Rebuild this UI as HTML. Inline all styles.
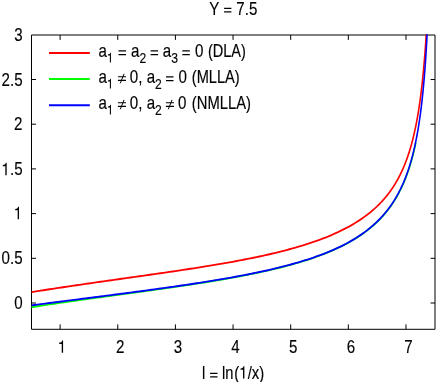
<!DOCTYPE html>
<html><head><meta charset="utf-8"><title>Y = 7.5</title>
<style>
html,body{margin:0;padding:0;background:#fff;}
body{width:436px;height:382px;overflow:hidden;font-family:"Liberation Sans",sans-serif;}
svg{display:block;}
text{font-family:"Liberation Sans",sans-serif;fill:#000;}
</style></head>
<body>
<svg width="436" height="382" viewBox="0 0 436 382">
<rect x="0" y="0" width="436" height="382" fill="#ffffff"/>
<path d="M31.5,303.00h4.5 M435.0,303.00h-4.4 M31.5,258.30h4.5 M435.0,258.30h-4.4 M31.5,213.60h4.5 M435.0,213.60h-4.4 M31.5,168.90h4.5 M435.0,168.90h-4.4 M31.5,124.20h4.5 M435.0,124.20h-4.4 M31.5,79.50h4.5 M435.0,79.50h-4.4 M60.12,329.3v-4.9 M60.12,35.0v4.9 M117.76,329.3v-4.9 M117.76,35.0v4.9 M175.41,329.3v-4.9 M175.41,35.0v4.9 M233.05,329.3v-4.9 M233.05,35.0v4.9 M290.69,329.3v-4.9 M290.69,35.0v4.9 M348.34,329.3v-4.9 M348.34,35.0v4.9 M405.98,329.3v-4.9 M405.98,35.0v4.9" stroke="#000" stroke-width="1" fill="none"/>
<path d="M31.5,35.0H435.0V329.3H31.5Z" stroke="#000" stroke-width="1" fill="none"/>
<g fill="none" stroke-width="1.85" stroke-linejoin="round" transform="scale(0.86,1)">
<path d="M36.63,292.10 L40.12,291.63 L43.60,291.16 L47.09,290.69 L50.58,290.22 L54.07,289.75 L57.56,289.29 L61.05,288.83 L64.53,288.38 L68.02,287.92 L71.51,287.47 L75.00,287.02 L78.49,286.57 L81.98,286.13 L85.47,285.69 L88.95,285.25 L92.44,284.81 L95.93,284.37 L99.42,283.93 L102.91,283.50 L106.40,283.07 L109.88,282.63 L113.37,282.20 L116.86,281.78 L120.35,281.35 L123.84,280.92 L127.33,280.49 L130.81,280.07 L134.30,279.64 L137.79,279.22 L141.28,278.79 L144.77,278.37 L148.26,277.95 L151.74,277.52 L155.23,277.10 L158.72,276.67 L162.21,276.25 L165.70,275.82 L169.19,275.40 L172.67,274.97 L176.16,274.54 L179.65,274.11 L183.14,273.68 L186.63,273.24 L190.12,272.81 L193.60,272.37 L197.09,271.93 L200.58,271.49 L204.07,271.05 L207.56,270.60 L211.05,270.15 L214.53,269.70 L218.02,269.24 L221.51,268.78 L225.00,268.31 L228.49,267.85 L231.98,267.37 L235.47,266.89 L238.95,266.41 L242.44,265.92 L245.93,265.43 L249.42,264.93 L252.91,264.42 L256.40,263.91 L259.88,263.39 L263.37,262.86 L266.86,262.33 L270.35,261.79 L273.84,261.24 L277.33,260.68 L280.81,260.11 L284.30,259.53 L287.79,258.94 L291.28,258.34 L294.77,257.73 L298.26,257.10 L301.74,256.47 L305.23,255.82 L308.72,255.15 L312.21,254.47 L315.70,253.78 L319.19,253.07 L322.67,252.35 L326.16,251.60 L329.65,250.84 L333.14,250.06 L336.63,249.25 L340.12,248.43 L343.60,247.58 L347.09,246.71 L350.58,245.81 L354.07,244.89 L357.56,243.94 L361.05,242.95 L364.53,241.94 L368.02,240.89 L371.51,239.80 L375.00,238.68 L378.49,237.51 L381.98,236.30 L385.47,235.04 L388.95,233.73 L392.44,232.37 L395.93,230.95 L399.42,229.47 L402.91,227.92 L406.40,226.29 L409.88,224.59 L413.37,222.79 L416.86,220.90 L420.35,218.91 L423.84,216.80 L427.33,214.55 L430.81,212.17 L434.30,209.62 L437.79,206.89 L441.28,203.95 L441.86,203.44 L442.15,203.18 L442.44,202.92 L442.73,202.66 L443.02,202.40 L443.31,202.13 L443.60,201.87 L443.90,201.60 L444.19,201.33 L444.48,201.05 L444.77,200.78 L445.06,200.50 L445.35,200.23 L445.64,199.95 L445.93,199.66 L446.22,199.38 L446.51,199.09 L446.80,198.81 L447.09,198.52 L447.38,198.22 L447.67,197.93 L447.97,197.63 L448.26,197.34 L448.55,197.03 L448.84,196.73 L449.13,196.43 L449.42,196.12 L449.71,195.81 L450.00,195.50 L450.29,195.18 L450.58,194.87 L450.87,194.55 L451.16,194.23 L451.45,193.90 L451.74,193.57 L452.03,193.24 L452.33,192.91 L452.62,192.58 L452.91,192.24 L453.20,191.90 L453.49,191.56 L453.78,191.21 L454.07,190.86 L454.36,190.51 L454.65,190.16 L454.94,189.80 L455.23,189.44 L455.52,189.08 L455.81,188.71 L456.10,188.34 L456.40,187.97 L456.69,187.60 L456.98,187.22 L457.27,186.83 L457.56,186.45 L457.85,186.06 L458.14,185.67 L458.43,185.27 L458.72,184.87 L459.01,184.47 L459.30,184.06 L459.59,183.65 L459.88,183.23 L460.17,182.82 L460.47,182.39 L460.76,181.97 L461.05,181.54 L461.34,181.10 L461.63,180.66 L461.92,180.22 L462.21,179.77 L462.50,179.32 L462.79,178.86 L463.08,178.40 L463.37,177.93 L463.66,177.46 L463.95,176.99 L464.24,176.51 L464.53,176.02 L464.83,175.53 L465.12,175.03 L465.41,174.53 L465.70,174.02 L465.99,173.51 L466.28,172.99 L466.57,172.47 L466.86,171.94 L467.15,171.40 L467.44,170.86 L467.73,170.32 L468.02,169.76 L468.31,169.20 L468.60,168.63 L468.90,168.06 L469.19,167.48 L469.48,166.89 L469.77,166.30 L470.06,165.69 L470.35,165.09 L470.64,164.47 L470.93,163.84 L471.22,163.21 L471.51,162.57 L471.80,161.92 L472.09,161.26 L472.38,160.60 L472.67,159.92 L472.97,159.24 L473.26,158.55 L473.55,157.84 L473.84,157.13 L474.13,156.41 L474.42,155.68 L474.71,154.93 L475.00,154.18 L475.29,153.42 L475.58,152.64 L475.87,151.86 L476.16,151.06 L476.45,150.25 L476.74,149.43 L477.03,148.59 L477.33,147.74 L477.62,146.88 L477.91,146.01 L478.20,145.12 L478.49,144.22 L478.78,143.30 L479.07,142.36 L479.36,141.42 L479.65,140.45 L479.94,139.47 L480.23,138.47 L480.52,137.46 L480.81,136.42 L481.10,135.37 L481.40,134.30 L481.69,133.21 L481.98,132.10 L482.27,130.97 L482.56,129.82 L482.85,128.64 L483.14,127.44 L483.43,126.22 L483.72,124.98 L484.01,123.71 L484.30,122.41 L484.59,121.08 L484.88,119.73 L485.17,118.35 L485.47,116.94 L485.76,115.50 L486.05,114.03 L486.34,112.52 L486.63,110.98 L486.92,109.40 L487.21,107.79 L487.50,106.14 L487.79,104.44 L488.08,102.71 L488.37,100.93 L488.66,99.11 L488.95,97.24 L489.24,95.32 L489.53,93.35 L489.83,91.32 L490.12,89.24 L490.41,87.10 L490.70,84.90 L490.99,82.64 L491.28,80.31 L491.57,77.91 L491.86,75.43 L492.15,72.88 L492.44,70.24 L492.73,67.52 L493.02,64.71 L493.31,61.81 L493.60,58.80 L493.90,55.69 L494.19,52.46 L494.48,49.12 L494.77,45.65 L495.06,42.05 L495.35,38.30 L495.64,34.40 L495.65,34.30" stroke="#ff0000"/>
<path d="M36.63,307.23 L40.12,306.75 L43.60,306.28 L47.09,305.82 L50.58,305.36 L54.07,304.90 L57.56,304.45 L61.05,304.00 L64.53,303.56 L68.02,303.12 L71.51,302.68 L75.00,302.25 L78.49,301.82 L81.98,301.39 L85.47,300.96 L88.95,300.54 L92.44,300.12 L95.93,299.70 L99.42,299.28 L102.91,298.87 L106.40,298.45 L109.88,298.04 L113.37,297.63 L116.86,297.22 L120.35,296.81 L123.84,296.40 L127.33,295.99 L130.81,295.58 L134.30,295.18 L137.79,294.77 L141.28,294.36 L144.77,293.95 L148.26,293.54 L151.74,293.13 L155.23,292.72 L158.72,292.31 L162.21,291.90 L165.70,291.49 L169.19,291.08 L172.67,290.66 L176.16,290.24 L179.65,289.82 L183.14,289.40 L186.63,288.98 L190.12,288.56 L193.60,288.13 L197.09,287.70 L200.58,287.26 L204.07,286.83 L207.56,286.39 L211.05,285.94 L214.53,285.50 L218.02,285.05 L221.51,284.59 L225.00,284.13 L228.49,283.67 L231.98,283.20 L235.47,282.73 L238.95,282.25 L242.44,281.76 L245.93,281.27 L249.42,280.78 L252.91,280.28 L256.40,279.77 L259.88,279.25 L263.37,278.72 L266.86,278.19 L270.35,277.65 L273.84,277.10 L277.33,276.54 L280.81,275.98 L284.30,275.40 L287.79,274.81 L291.28,274.21 L294.77,273.60 L298.26,272.98 L301.74,272.35 L305.23,271.70 L308.72,271.04 L312.21,270.36 L315.70,269.67 L319.19,268.96 L322.67,268.23 L326.16,267.49 L329.65,266.73 L333.14,265.95 L336.63,265.14 L340.12,264.32 L343.61,263.47 L347.10,262.59 L350.59,261.69 L354.08,260.76 L357.57,259.80 L361.06,258.81 L364.55,257.78 L368.04,256.72 L371.54,255.62 L375.03,254.48 L378.53,253.29 L382.03,252.06 L385.54,250.78 L389.04,249.45 L392.55,248.06 L396.07,246.62 L399.58,245.11 L403.09,243.54 L406.61,241.89 L410.12,240.16 L413.63,238.35 L417.14,236.43 L420.64,234.41 L424.14,232.27 L427.64,230.00 L431.14,227.59 L434.63,225.01 L438.13,222.24 L441.62,219.27 L442.20,218.75 L442.49,218.49 L442.78,218.23 L443.07,217.96 L443.36,217.70 L443.65,217.43 L443.94,217.16 L444.24,216.89 L444.53,216.61 L444.82,216.34 L445.11,216.06 L445.40,215.78 L445.69,215.50 L445.98,215.22 L446.27,214.93 L446.56,214.64 L446.85,214.35 L447.14,214.06 L447.44,213.77 L447.73,213.47 L448.02,213.18 L448.31,212.88 L448.60,212.58 L448.89,212.27 L449.18,211.97 L449.47,211.66 L449.76,211.35 L450.05,211.03 L450.34,210.72 L450.63,210.40 L450.93,210.08 L451.22,209.76 L451.51,209.43 L451.80,209.11 L452.09,208.78 L452.38,208.44 L452.67,208.11 L452.96,207.77 L453.25,207.43 L453.54,207.09 L453.83,206.74 L454.12,206.39 L454.41,206.04 L454.71,205.69 L455.00,205.33 L455.29,204.97 L455.58,204.61 L455.87,204.24 L456.16,203.87 L456.45,203.50 L456.74,203.12 L457.03,202.74 L457.32,202.36 L457.61,201.98 L457.90,201.59 L458.20,201.20 L458.49,200.80 L458.78,200.40 L459.07,200.00 L459.36,199.59 L459.65,199.18 L459.94,198.77 L460.23,198.35 L460.52,197.93 L460.81,197.51 L461.10,197.08 L461.39,196.64 L461.68,196.21 L461.97,195.76 L462.27,195.32 L462.56,194.87 L462.85,194.41 L463.14,193.96 L463.43,193.49 L463.72,193.02 L464.01,192.55 L464.30,192.07 L464.59,191.59 L464.88,191.10 L465.17,190.61 L465.46,190.11 L465.75,189.61 L466.05,189.10 L466.34,188.59 L466.63,188.07 L466.92,187.55 L467.21,187.02 L467.50,186.48 L467.79,185.94 L468.08,185.39 L468.37,184.84 L468.66,184.28 L468.95,183.71 L469.24,183.14 L469.53,182.56 L469.82,181.97 L470.12,181.37 L470.41,180.77 L470.70,180.16 L470.99,179.55 L471.28,178.93 L471.57,178.29 L471.86,177.66 L472.15,177.01 L472.44,176.35 L472.73,175.69 L473.02,175.02 L473.31,174.34 L473.60,173.65 L473.89,172.95 L474.19,172.24 L474.48,171.52 L474.77,170.79 L475.06,170.06 L475.35,169.31 L475.64,168.55 L475.93,167.78 L476.22,167.00 L476.51,166.21 L476.80,165.40 L477.09,164.59 L477.38,163.76 L477.67,162.92 L477.96,162.06 L478.26,161.20 L478.55,160.32 L478.84,159.42 L479.13,158.51 L479.42,157.59 L479.71,156.65 L480.00,155.70 L480.29,154.72 L480.58,153.74 L480.87,152.73 L481.16,151.71 L481.45,150.67 L481.74,149.61 L482.03,148.54 L482.33,147.44 L482.62,146.32 L482.91,145.18 L483.20,144.02 L483.49,142.84" stroke="#00ff00"/>
<path d="M36.63,305.36 L40.12,304.97 L43.60,304.58 L47.09,304.19 L50.58,303.80 L54.07,303.41 L57.56,303.02 L61.05,302.64 L64.53,302.25 L68.02,301.86 L71.51,301.48 L75.00,301.09 L78.49,300.70 L81.98,300.32 L85.47,299.94 L88.95,299.55 L92.44,299.17 L95.93,298.78 L99.42,298.40 L102.91,298.01 L106.40,297.63 L109.88,297.24 L113.37,296.86 L116.86,296.47 L120.35,296.09 L123.84,295.70 L127.33,295.31 L130.81,294.93 L134.30,294.54 L137.79,294.15 L141.28,293.76 L144.77,293.36 L148.26,292.97 L151.74,292.58 L155.23,292.18 L158.72,291.78 L162.21,291.38 L165.70,290.98 L169.19,290.58 L172.67,290.17 L176.16,289.77 L179.65,289.36 L183.14,288.95 L186.63,288.53 L190.12,288.11 L193.60,287.69 L197.09,287.27 L200.58,286.84 L204.07,286.41 L207.56,285.98 L211.05,285.54 L214.53,285.10 L218.02,284.66 L221.51,284.21 L225.00,283.75 L228.49,283.29 L231.98,282.83 L235.47,282.36 L238.95,281.88 L242.44,281.40 L245.93,280.92 L249.42,280.42 L252.91,279.92 L256.40,279.42 L259.88,278.90 L263.37,278.38 L266.86,277.85 L270.35,277.31 L273.84,276.76 L277.33,276.21 L280.81,275.64 L284.30,275.07 L287.79,274.48 L291.28,273.88 L294.77,273.28 L298.26,272.66 L301.74,272.02 L305.23,271.38 L308.72,270.72 L312.21,270.04 L315.70,269.35 L319.19,268.64 L322.67,267.92 L326.16,267.18 L329.65,266.42 L333.14,265.64 L336.63,264.84 L340.12,264.02 L343.60,263.17 L347.09,262.30 L350.58,261.41 L354.07,260.48 L357.56,259.53 L361.05,258.55 L364.53,257.53 L368.02,256.48 L371.51,255.40 L375.00,254.27 L378.49,253.10 L381.98,251.89 L385.47,250.63 L388.95,249.32 L392.44,247.95 L395.93,246.53 L399.42,245.03 L402.91,243.47 L406.40,241.84 L409.88,240.12 L413.37,238.31 L416.86,236.40 L420.35,234.39 L423.84,232.25 L427.33,229.99 L430.81,227.57 L434.30,225.00 L437.79,222.23 L441.28,219.26 L441.86,218.75 L442.15,218.48 L442.44,218.22 L442.73,217.96 L443.02,217.69 L443.31,217.42 L443.60,217.15 L443.90,216.88 L444.19,216.61 L444.48,216.33 L444.77,216.05 L445.06,215.77 L445.35,215.49 L445.64,215.21 L445.93,214.92 L446.22,214.64 L446.51,214.35 L446.80,214.06 L447.09,213.76 L447.38,213.47 L447.67,213.17 L447.97,212.87 L448.26,212.57 L448.55,212.27 L448.84,211.96 L449.13,211.65 L449.42,211.34 L449.71,211.03 L450.00,210.71 L450.29,210.40 L450.58,210.08 L450.87,209.75 L451.16,209.43 L451.45,209.10 L451.74,208.77 L452.03,208.44 L452.33,208.10 L452.62,207.77 L452.91,207.43 L453.20,207.08 L453.49,206.74 L453.78,206.39 L454.07,206.04 L454.36,205.68 L454.65,205.32 L454.94,204.96 L455.23,204.60 L455.52,204.24 L455.81,203.87 L456.10,203.49 L456.40,203.12 L456.69,202.74 L456.98,202.36 L457.27,201.97 L457.56,201.58 L457.85,201.19 L458.14,200.80 L458.43,200.40 L458.72,200.00 L459.01,199.59 L459.30,199.18 L459.59,198.77 L459.88,198.35 L460.17,197.93 L460.47,197.50 L460.76,197.07 L461.05,196.64 L461.34,196.20 L461.63,195.76 L461.92,195.32 L462.21,194.87 L462.50,194.41 L462.79,193.95 L463.08,193.49 L463.37,193.02 L463.66,192.55 L463.95,192.07 L464.24,191.59 L464.53,191.10 L464.83,190.61 L465.12,190.11 L465.41,189.61 L465.70,189.10 L465.99,188.59 L466.28,188.07 L466.57,187.54 L466.86,187.01 L467.15,186.48 L467.44,185.94 L467.73,185.39 L468.02,184.83 L468.31,184.27 L468.60,183.71 L468.90,183.13 L469.19,182.55 L469.48,181.97 L469.77,181.37 L470.06,180.77 L470.35,180.16 L470.64,179.55 L470.93,178.92 L471.22,178.29 L471.51,177.65 L471.80,177.01 L472.09,176.35 L472.38,175.69 L472.67,175.02 L472.97,174.33 L473.26,173.65 L473.55,172.95 L473.84,172.24 L474.13,171.52 L474.42,170.79 L474.71,170.05 L475.00,169.31 L475.29,168.55 L475.58,167.78 L475.87,167.00 L476.16,166.20 L476.45,165.40 L476.74,164.58 L477.03,163.76 L477.33,162.91 L477.62,162.06 L477.91,161.19 L478.20,160.31 L478.49,159.42 L478.78,158.51 L479.07,157.59 L479.36,156.65 L479.65,155.69 L479.94,154.72 L480.23,153.74 L480.52,152.73 L480.81,151.71 L481.10,150.67 L481.40,149.61 L481.69,148.54 L481.98,147.44 L482.27,146.32 L482.56,145.18 L482.85,144.02 L483.14,142.84 L483.43,141.63 L483.72,140.40 L484.01,139.15 L484.30,137.87 L484.59,136.56 L484.88,135.23 L485.17,133.86 L485.47,132.47 L485.76,131.05 L486.05,129.59 L486.34,128.10 L486.63,126.58 L486.92,125.02 L487.21,123.43 L487.50,121.80 L487.79,120.12 L488.08,118.41 L488.37,116.65 L488.66,114.84 L488.95,112.99 L489.24,111.08 L489.53,109.13 L489.83,107.12 L490.12,105.05 L490.41,102.92 L490.70,100.73 L490.99,98.48 L491.28,96.15 L491.57,93.75 L491.86,91.28 L492.15,88.72 L492.44,86.08 L492.73,83.34 L493.02,80.51 L493.31,77.58 L493.60,74.53 L493.90,71.38 L494.19,68.09 L494.48,64.68 L494.77,61.13 L495.06,57.43 L495.35,53.57 L495.64,49.53 L495.93,45.31 L496.22,40.89 L496.51,36.25 L496.63,34.30" stroke="#0000ff"/>
<path d="M56.98,53H104.42" stroke="#ff0000"/>
<path d="M56.98,79H104.42" stroke="#00ff00"/>
<path d="M56.98,105.2H104.42" stroke="#0000ff"/>
</g>
<g opacity="0.999" stroke="#000" stroke-width="0.16" stroke-linejoin="round">
<text transform="translate(233.3,15.0) scale(0.85,1)" font-size="17.8" text-anchor="middle">Y <tspan visibility="hidden">=</tspan> 7.5</text>
<path d="M224.1,8.45h7.3 M224.1,11.95h7.3" stroke="#000" stroke-width="1.25" fill="none"/>
<path d="M210.1,373.45h7.4 M210.1,376.75h7.4" stroke="#000" stroke-width="1.25" fill="none"/>
<path d="M118.5,50.90h7.5 M118.5,54.70h7.5" stroke="#000" stroke-width="1.25" fill="none"/>
<path d="M150.6,50.90h7.5 M150.6,54.70h7.5" stroke="#000" stroke-width="1.25" fill="none"/>
<path d="M182.3,50.90h7.5 M182.3,54.70h7.5" stroke="#000" stroke-width="1.25" fill="none"/>
<path d="M166.0,76.90h7.5 M166.0,80.70h7.5" stroke="#000" stroke-width="1.25" fill="none"/>
<text transform="translate(22.6,308.8) scale(0.85,1)" font-size="17.8" text-anchor="end">0</text>
<text transform="translate(22.6,264.1) scale(0.85,1)" font-size="17.8" text-anchor="end">0.5</text>
<text transform="translate(22.6,220.1) scale(0.85,1)" font-size="17.8" text-anchor="end"><tspan visibility="hidden">1</tspan></text>
<text transform="translate(22.6,175.3) scale(0.85,1)" font-size="17.8" text-anchor="end"><tspan visibility="hidden">1</tspan>.5</text>
<text transform="translate(22.3,130.0) scale(0.85,1)" font-size="17.8" text-anchor="end">2</text>
<text transform="translate(22.6,86.0) scale(0.85,1)" font-size="17.8" text-anchor="end">2.5</text>
<text transform="translate(22.6,41.4) scale(0.85,1)" font-size="17.8" text-anchor="end">3</text>
<path d="M19.03,219.20L19.03,206.80L18.14,206.80C17.94,208.01 17.31,208.71 15.20,209.02L15.20,210.32L17.67,210.32L17.67,219.20Z" fill="#000" stroke="none"/>
<path d="M6.68,175.20L6.68,162.80L5.79,162.80C5.59,164.01 4.96,164.71 2.85,165.02L2.85,166.32L5.32,166.32L5.32,175.20Z" fill="#000" stroke="none"/>
<text transform="translate(62.62,352.9) scale(0.85,1)" font-size="17.8" text-anchor="middle"><tspan visibility="hidden">1</tspan></text>
<text transform="translate(120.26,352.9) scale(0.85,1)" font-size="17.8" text-anchor="middle">2</text>
<text transform="translate(177.91,352.9) scale(0.85,1)" font-size="17.8" text-anchor="middle">3</text>
<text transform="translate(235.55,352.9) scale(0.85,1)" font-size="17.8" text-anchor="middle">4</text>
<text transform="translate(293.19,352.9) scale(0.85,1)" font-size="17.8" text-anchor="middle">5</text>
<text transform="translate(350.84,352.9) scale(0.85,1)" font-size="17.8" text-anchor="middle">6</text>
<text transform="translate(408.48,352.9) scale(0.85,1)" font-size="17.8" text-anchor="middle">7</text>
<path d="M63.08,352.80L63.08,340.40L62.19,340.40C61.99,341.61 61.36,342.31 59.25,342.62L59.25,343.92L61.72,343.92L61.72,352.80Z" fill="#000" stroke="none"/>
<text transform="translate(202.07,378.7) scale(0.826,1)" font-size="17.8" text-anchor="start">l <tspan visibility="hidden">=</tspan> ln</text>
<text transform="translate(234.3,378.7) scale(0.841,1)" font-size="17.8" text-anchor="start">(<tspan visibility="hidden">1</tspan>/x)</text>
<path d="M244.38,378.60L244.38,366.20L243.49,366.20C243.29,367.41 242.66,368.11 240.55,368.42L240.55,369.72L243.02,369.72L243.02,378.60Z" fill="#000" stroke="none"/>
<path d="M110.94,62.60L110.94,52.68L110.23,52.68C110.07,53.65 109.57,54.21 107.88,54.46L107.88,55.49L109.86,55.49L109.86,62.60Z" fill="#000" stroke="none"/>
<path d="M110.94,88.60L110.94,78.68L110.23,78.68C110.07,79.65 109.57,80.21 107.88,80.46L107.88,81.49L109.86,81.49L109.86,88.60Z" fill="#000" stroke="none"/>
<path d="M110.94,114.60L110.94,104.68L110.23,104.68C110.07,105.65 109.57,106.21 107.88,106.46L107.88,107.49L109.86,107.49L109.86,114.60Z" fill="#000" stroke="none"/>
<text transform="translate(98.6,57.3) scale(0.85,1)" font-size="17.8" text-anchor="start">a<tspan dy="5.8" font-size="14.24"><tspan visibility="hidden">1</tspan></tspan><tspan dy="-5.8" dx="0.00"> <tspan visibility="hidden">=</tspan> a</tspan><tspan dy="5.8" font-size="14.24">2</tspan><tspan dy="-5.8" dx="-0.59"> <tspan visibility="hidden">=</tspan> a</tspan><tspan dy="5.8" font-size="14.24">3</tspan><tspan dy="-5.8" dx="-0.12"> <tspan visibility="hidden">=</tspan> 0</tspan></text>
<text transform="translate(98.6,83.3) scale(0.85,1)" font-size="17.8" text-anchor="start">a<tspan dy="5.8" font-size="14.24"><tspan visibility="hidden">1</tspan></tspan><tspan dy="-5.8" dx="-0.71"> <tspan visibility="hidden">≠</tspan> 0, a</tspan><tspan dy="5.8" font-size="14.24">2</tspan><tspan dy="-5.8" dx="-0.47"> <tspan visibility="hidden">=</tspan> 0</tspan></text>
<text transform="translate(98.6,109.3) scale(0.85,1)" font-size="17.8" text-anchor="start">a<tspan dy="5.8" font-size="14.24"><tspan visibility="hidden">1</tspan></tspan><tspan dy="-5.8" dx="-0.71"> <tspan visibility="hidden">≠</tspan> 0, a</tspan><tspan dy="5.8" font-size="14.24">2</tspan><tspan dy="-5.8" dx="-0.47"> <tspan visibility="hidden">≠</tspan> 0</tspan></text>
<path d="M117.9,76.75h8.1 M117.9,80.4h8.1" stroke="#000" stroke-width="1.15" fill="none"/><path d="M124.10,73.85L120.30,83.25" stroke="#000" stroke-width="1.0" fill="none"/>
<path d="M117.9,102.75h8.1 M117.9,106.4h8.1" stroke="#000" stroke-width="1.15" fill="none"/><path d="M124.10,99.85L120.30,109.25" stroke="#000" stroke-width="1.0" fill="none"/>
<path d="M165.9,102.75h8.1 M165.9,106.4h8.1" stroke="#000" stroke-width="1.15" fill="none"/><path d="M172.10,99.85L168.30,109.25" stroke="#000" stroke-width="1.0" fill="none"/>
<text transform="translate(207.9,57.3) scale(0.815,1)" font-size="17.8">(DLA)</text>
<text transform="translate(191.8,83.3) scale(0.822,1)" font-size="17.8">(MLLA)</text>
<text transform="translate(191.8,109.3) scale(0.832,1)" font-size="17.8">(NMLLA)</text>
</g>
</svg>
</body></html>
